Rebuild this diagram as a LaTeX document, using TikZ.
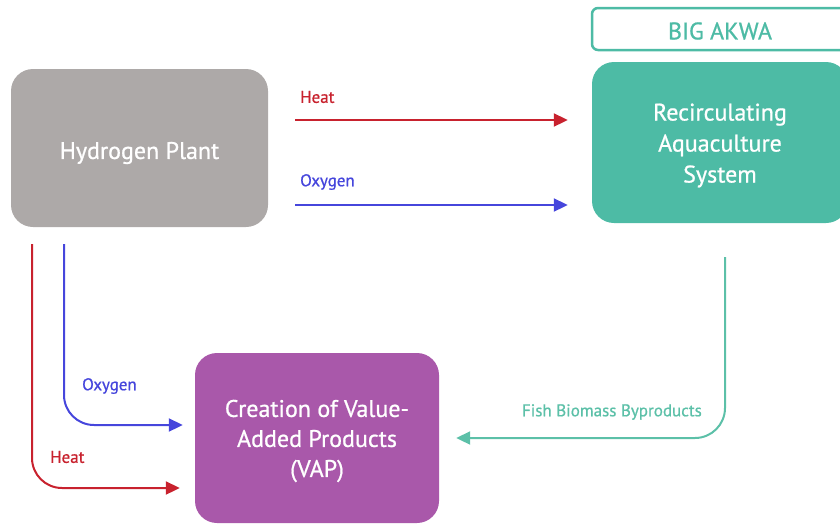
\documentclass[tikz,border=0pt]{standalone}
\usepackage{fontspec}
\setmainfont[FakeBold=0.8]{PT Sans}
\usetikzlibrary{arrows.meta}
\definecolor{hgray}{HTML}{ADA9A8}
\definecolor{teal1}{HTML}{4DBBA5}
\definecolor{purp}{HTML}{A958AA}
\definecolor{hred}{HTML}{C8222E}
\definecolor{hblue}{HTML}{4646DC}
\definecolor{tline}{HTML}{5CC0A8}
\tikzset{
  box/.style={rounded corners=22pt, inner sep=0pt},
  boxtext/.style={text=white, align=center, font=\fontsize{24}{31}\selectfont, inner sep=0pt},
  flow/.style={line width=2pt, -{Triangle[length=14pt,width=13pt]}},
  lbl/.style={font=\fontsize{17}{18}\selectfont, inner sep=0pt}
}
\begin{document}
\begin{tikzpicture}[x=1pt,y=-1pt]
\useasboundingbox (0,0) rectangle (840,523);
\clip (0,0) rectangle (840,523);
\node[box, fill=hgray, minimum width=257pt, minimum height=158pt] (hp) at (139.5,148) {};
\node[boxtext] (hpt) at ([yshift=-5pt]hp.center) {Hydrogen Plant};
\node[box, fill=teal1, minimum width=256pt, minimum height=161pt] (ras) at (720,142.5) {};
\node[boxtext] (rast) at ([yshift=-3pt]ras.center) {Recirculating\\Aquaculture\\System};
\node[draw=teal1, line width=2.5pt, fill=white, rounded corners=6pt, minimum width=256pt, minimum height=42pt, inner sep=0pt] (big) at (720,29) {};
\node[text=teal1, font=\fontsize{24}{28}\selectfont, inner sep=0pt] (bigt) at ([yshift=-2pt]big.center) {BIG AKWA};
\node[box, fill=purp, minimum width=244pt, minimum height=170pt] (vap) at (317,438) {};
\node[boxtext, font=\fontsize{24}{30}\selectfont] (vapt) at ([yshift=-3pt]vap.center) {Creation of Value-\\Added Products\\(VAP)};
% top arrows
\draw[flow, hred, shorten <=27pt, shorten >=24pt] (hp.east |- 0,120) -- (ras.west |- 0,120);
\draw[flow, hblue, shorten <=27pt, shorten >=24pt] (hp.east |- 0,205) -- (ras.west |- 0,205);
\node[lbl, text=hred, anchor=west] (lh1) at (300,97) {Heat};
\node[lbl, text=hblue, anchor=west] (lo1) at (300,182) {Oxygen};
% bottom-left arrows
\draw[flow, hred, rounded corners=30pt, shorten <=17pt, shorten >=15pt] (hp.south -| 32,0) |- (vap.west |- 0,488);
\draw[flow, hblue, rounded corners=30pt, shorten <=17pt, shorten >=12pt] (hp.south -| 64,0) |- (vap.west |- 0,425);
\node[lbl, text=hblue, anchor=west] (lo2) at (82,386) {Oxygen};
\node[lbl, text=hred, anchor=west] (lh2) at (50,457) {Heat};
% fish biomass
\draw[flow, tline, rounded corners=30pt, shorten <=34pt, shorten >=17pt] (ras.south -| 725,0) |- (vap.east |- 0,438);
\node[lbl, text=tline, anchor=east] (lf) at (702,412) {Fish Biomass Byproducts};
\end{tikzpicture}
\end{document}
